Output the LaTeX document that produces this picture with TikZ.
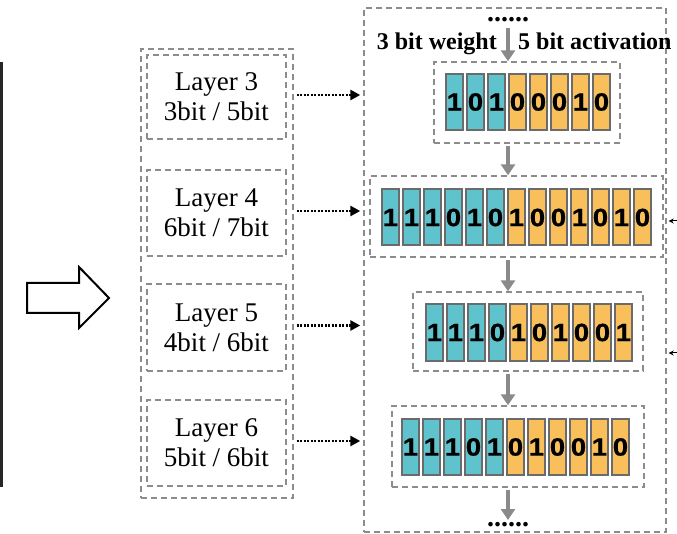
\documentclass[tikz,border=0pt]{standalone}
\usepackage{fontspec}
\setmainfont{Liberation Serif}
\newfontfamily\bitfont[FakeStretch=1.1, FakeBold=0.8]{Liberation Sans}
\usepackage{tikz}
\usetikzlibrary{arrows.meta, positioning, calc}
\definecolor{QWteal}{HTML}{5EC3CC}
\definecolor{QWorange}{HTML}{F8BF5A}
\definecolor{QWframe}{HTML}{6B6B6B}
\definecolor{QWdash}{HTML}{8C8C8C}
\definecolor{QWflow}{HTML}{8A8A8A}

\begin{document}
\begin{tikzpicture}[x=1pt, y=-1pt]
\tikzset{
  dashbox/.style={rectangle, draw=QWdash, dash pattern=on 6pt off 4pt, line width=1.4pt, inner sep=0},
  layerbox/.style={dashbox, minimum width=139pt, align=center, font=\fontsize{27}{30}\selectfont},
  wbit/.style={rectangle, draw=QWframe, line width=2pt, fill=QWteal, minimum width=17pt, minimum height=56pt, inner sep=0, font=\bitfont\bfseries\fontsize{25}{25}\selectfont},
  abit/.style={wbit, fill=QWorange},
  flow/.style={draw=QWflow, line width=4.5pt, -{Triangle[length=11pt, width=14pt]}},
  dotarrow/.style={dash pattern=on 2pt off 1.5pt, line width=2.5pt, -{Triangle[length=10pt, width=10pt]}},
  dotline/.style={inner sep=0, font=\bfseries\fontsize{28}{28}\selectfont},
  headlabel/.style={inner sep=0, font=\bfseries\fontsize{24}{24}\selectfont},
}
  \useasboundingbox (0,0) rectangle (677,534);

  % bar on the left edge
  \draw[line width=3pt, black!85] (1.5,62) -- (1.5,487);

  % hollow arrow
  \draw[line width=2pt, fill=white] (27,283) -- (79,283) -- (79,267) -- (109,298)
    -- (79,328) -- (79,313) -- (27,313) -- cycle;

  % left column: layers with their bit widths
  \node[dashbox, minimum width=152pt, minimum height=449pt] (leftbox) at (217,273.5) {};
  \node[layerbox, minimum height=84pt] (layer3) at (216.5,97) {Layer 3\\3bit / 5bit};
  \node[layerbox, minimum height=86pt] (layer4) at (216.5,213) {Layer 4\\6bit / 7bit};
  \node[layerbox, minimum height=87pt] (layer5) at (216.5,327.5) {Layer 5\\4bit / 6bit};
  \node[layerbox, minimum height=86pt] (layer6) at (216.5,443) {Layer 6\\5bit / 6bit};

  % right column: packed weight / activation words
  \node[dashbox, minimum width=302pt, minimum height=524pt] (rightbox) at (515,270) {};
  \node[dotline, anchor=base] (dotsTop) at (508,22) {......};
  \node[headlabel, anchor=base east] (wlabel) at (497,50) {3 bit weight};
  \node[headlabel, anchor=base west] (alabel) at (518,50) {5 bit activation};

  \node[dashbox, minimum width=186pt, minimum height=81pt] (row1) at (527,102.5) {};
  \node[dashbox, minimum width=293pt, minimum height=81pt] (row2) at (516.5,216.5) {};
  \node[dashbox, minimum width=230pt, minimum height=79pt] (row3) at (528,331.5) {};
  \node[dashbox, minimum width=252pt, minimum height=81pt] (row4) at (518,446.5) {};

  \foreach \b [count=\i] in {1,0,1,0,0,0,1,0} {
    \ifnum\i>3 \def\bstyle{abit}\else\def\bstyle{wbit}\fi
    \node[\bstyle] (r1b\i) at ({454.5+(\i-1)*21},102) {\b};
  }
  \foreach \b [count=\i] in {1,1,1,0,1,0,1,0,0,1,0,1,0} {
    \ifnum\i>6 \def\bstyle{abit}\else\def\bstyle{wbit}\fi
    \node[\bstyle] (r2b\i) at ({390.5+(\i-1)*21},217.5) {\b};
  }
  \foreach \b [count=\i] in {1,1,1,0,1,0,1,0,0,1} {
    \ifnum\i>4 \def\bstyle{abit}\else\def\bstyle{wbit}\fi
    \node[\bstyle] (r3b\i) at ({434.5+(\i-1)*21},332.5) {\b};
  }
  \foreach \b [count=\i] in {1,1,1,0,1,0,1,0,0,1,0} {
    \ifnum\i>5 \def\bstyle{abit}\else\def\bstyle{wbit}\fi
    \node[\bstyle] (r4b\i) at ({410.5+(\i-1)*21},447) {\b};
  }

  \node[dotline, anchor=base] (dotsBot) at (508,526) {......};

  % flow down the column
  \draw[flow, shorten <=6pt] (dotsTop.base) -- (dotsTop.base |- row1.north);
  \draw[flow, shorten <=2pt] (dotsTop.base |- row1.south) -- (dotsTop.base |- row2.north);
  \draw[flow, shorten <=2pt] (dotsTop.base |- row2.south) -- (dotsTop.base |- row3.north);
  \draw[flow, shorten <=2pt] (dotsTop.base |- row3.south) -- (dotsTop.base |- row4.north);
  \draw[flow, shorten <=2pt, shorten >=6pt] (dotsTop.base |- row4.south) -- (dotsBot.base);

  % dotted links from layers to words
  \foreach \l in {3,4,5,6}
    \draw[dotarrow, shorten <=3pt, shorten >=3pt] ([yshift=2pt]layer\l.east -| leftbox.east) -- ([yshift=2pt]layer\l.east -| rightbox.west);

  % arrows entering from the right
  \coordinate (inA) at (677,221);
  \coordinate (inB) at (677,353);
  \draw[-{Stealth[length=5pt, width=5pt]}, line width=1pt, shorten >=2pt] (inA) -- (inA -| rightbox.east);
  \draw[-{Stealth[length=5pt, width=5pt]}, line width=1pt, shorten >=2pt] (inB) -- (inB -| rightbox.east);
\end{tikzpicture}
\end{document}
